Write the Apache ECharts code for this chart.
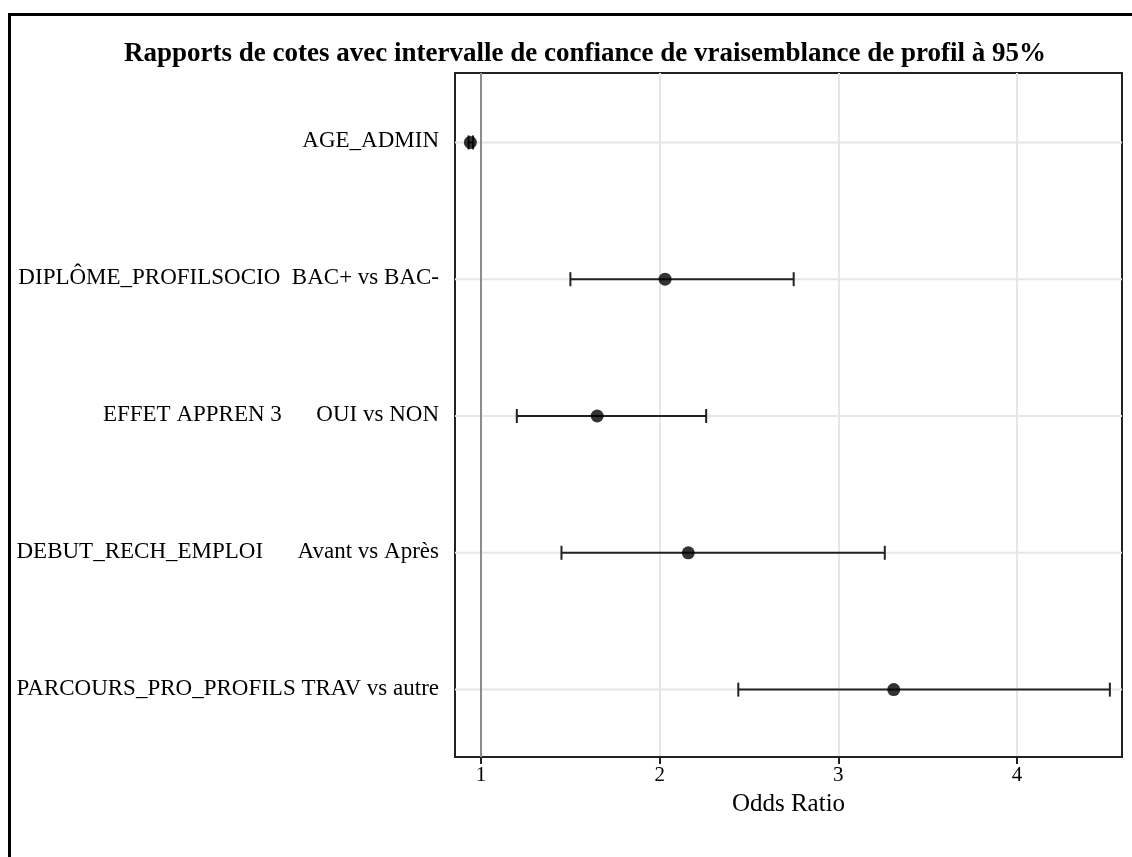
<!DOCTYPE html>
<html>
<head>
<meta charset="utf-8">
<script src="https://cdn.jsdelivr.net/npm/echarts@6/dist/echarts.min.js"></script>
<style>
  html, body { margin: 0; padding: 0; background: #fff; }
  #chart { width: 1132px; height: 857px; }
</style>
</head>
<body>
<div id="chart"></div>
<script>
(function () {
  'use strict';

  // effets (libellés SAS, espaces conservés)
  var effets = [
    'AGE_ADMIN',
    'DIPLÔME_PROFILSOCIO  BAC+ vs BAC-',
    'EFFET APPREN 3      OUI vs NON',
    'DEBUT_RECH_EMPLOI      Avant vs Après',
    'PARCOURS_PRO_PROFILS TRAV vs autre'
  ];
  var oddsRatio = [0.94, 2.03, 1.65, 2.16, 3.31];
  var icBas = [0.93, 1.50, 1.20, 1.45, 2.44];
  var icHaut = [0.955, 2.75, 2.26, 3.26, 4.52];
  var graduations = [1, 2, 3, 4];

  var serif = '"Liberation Serif", "DejaVu Serif", serif';

  var pointsData = oddsRatio.map(function (v, i) { return [v, i]; });
  var barresData = effets.map(function (e, i) { return [i, icBas[i], icHaut[i]]; });

  var myChart = echarts.init(document.getElementById('chart'));

  var option = {
    backgroundColor: '#fff',
    animation: false,
    title: {
      text: 'Rapports de cotes avec intervalle de confiance de vraisemblance de profil à 95%',
      left: 580,
      top: 36,
      textAlign: 'center',
      textStyle: { fontFamily: serif, fontSize: 27, fontWeight: 'bold', color: '#000' }
    },
    graphic: [{
      type: 'rect',
      shape: { x: 9.5, y: 14.5, width: 1200, height: 900 },
      style: { fill: 'none', stroke: '#000', lineWidth: 3 },
      silent: true
    }],
    grid: {
      left: 455, right: 10, top: 73, bottom: 100,
      show: true, borderColor: '#222', borderWidth: 2, backgroundColor: 'transparent'
    },
    xAxis: {
      type: 'value',
      min: 0.854,
      max: 4.588,
      name: 'Odds Ratio',
      nameLocation: 'middle',
      nameGap: 35,
      nameTextStyle: { fontFamily: serif, fontSize: 25, color: '#000' },
      axisLine: { show: true, lineStyle: { color: '#222', width: 2 } },
      axisTick: { show: true, customValues: graduations, length: 7, lineStyle: { color: '#222', width: 2 } },
      axisLabel: { customValues: graduations, fontFamily: serif, fontSize: 21, color: '#000', margin: 8 },
      splitLine: { show: true, lineStyle: { color: '#e6e6e6', width: 2 } }
    },
    yAxis: {
      type: 'category',
      data: effets,
      inverse: true,
      axisLine: { show: true, lineStyle: { color: '#222', width: 2 } },
      axisTick: { show: false },
      axisLabel: { fontFamily: serif, fontSize: 23, color: '#000', margin: 16 },
      splitLine: { show: false }
    },
    series: [{
      // lignes horizontales de fond
      type: 'custom',
      z: 1,
      silent: true,
      data: barresData,
      renderItem: function (params, api) {
        var c = api.coord([1, api.value(0)]);
        var cs = params.coordSys;
        return {
          type: 'line',
          shape: { x1: cs.x, y1: c[1] + 1, x2: cs.x + cs.width, y2: c[1] + 1 },
          style: { stroke: '#e6e6e6', lineWidth: 2 }
        };
      }
    }, {
      type: 'scatter',
      z: 2,
      data: [],
      markLine: {
        silent: true,
        symbol: 'none',
        label: { show: false },
        lineStyle: { color: '#8c8c8c', width: 2, type: 'solid' },
        data: [{ xAxis: 1 }]
      }
    }, {
      // intervalles de confiance
      type: 'custom',
      z: 3,
      silent: true,
      data: barresData,
      renderItem: function (params, api) {
        var idx = api.value(0);
        var a = api.coord([api.value(1), idx]);
        var b = api.coord([api.value(2), idx]);
        var dy = 1;
        var h = 7;
        var st = { stroke: '#222', lineWidth: 2 };
        return {
          type: 'group',
          children: [
            { type: 'line', shape: { x1: a[0], y1: a[1] + dy, x2: b[0], y2: b[1] + dy }, style: st },
            { type: 'line', shape: { x1: a[0], y1: a[1] + dy - h, x2: a[0], y2: a[1] + dy + h }, style: st },
            { type: 'line', shape: { x1: b[0], y1: b[1] + dy - h, x2: b[0], y2: b[1] + dy + h }, style: st }
          ]
        };
      }
    }, {
      type: 'scatter',
      z: 4,
      symbol: 'circle',
      symbolSize: 13,
      symbolOffset: [0, 1],
      itemStyle: { color: '#000' },
      data: pointsData
    }]
  };

  myChart.setOption(option);
  window.addEventListener('resize', function () {
    myChart.resize();
  });
})();
</script>
</body>
</html>
